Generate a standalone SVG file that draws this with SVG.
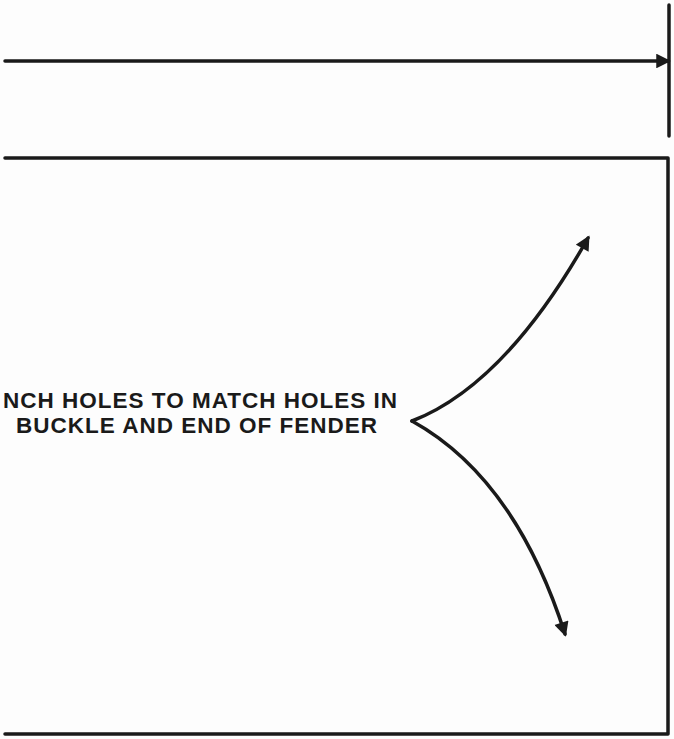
<svg xmlns="http://www.w3.org/2000/svg" width="674" height="739" viewBox="0 0 674 739">
<style>
.ln{fill:none;stroke:#1a1a1a;stroke-width:3.5;stroke-linecap:round;stroke-linejoin:round}
.lbl{font-family:"Liberation Sans",Arial,sans-serif;font-weight:bold;font-size:22.5px;letter-spacing:1px;fill:#1a1a1a}
</style>
<defs>
<marker id="ah" viewBox="0 0 10 10" refX="8" refY="5" markerWidth="4.5" markerHeight="4.2" orient="auto" markerUnits="strokeWidth">
<path d="M0,0 L10,5 L0,10 Z" fill="#1a1a1a"/>
</marker>
</defs>
<rect width="674" height="739" fill="#fdfdfd"/>
<g id="top-bar">
<line class="ln" x1="669" y1="5" x2="669" y2="136"/>
</g>
<g id="box">
<path class="ln" d="M5,158 L668,158 L668,734 L5,734"/>
</g>
<g id="label">
<text class="lbl" x="398" y="408" text-anchor="end">NCH HOLES TO MATCH HOLES IN</text>
<text class="lbl" x="378" y="433" text-anchor="end">BUCKLE AND END OF FENDER</text>
</g>
<g id="connectors">
<line class="ln" x1="5" y1="61" x2="668" y2="61" marker-end="url(#ah)"/>
<path class="ln" d="M412,421 Q505,385 588,238" marker-end="url(#ah)"/>
<path class="ln" d="M412,421 Q515,478 565,634" marker-end="url(#ah)"/>
</g>
</svg>
